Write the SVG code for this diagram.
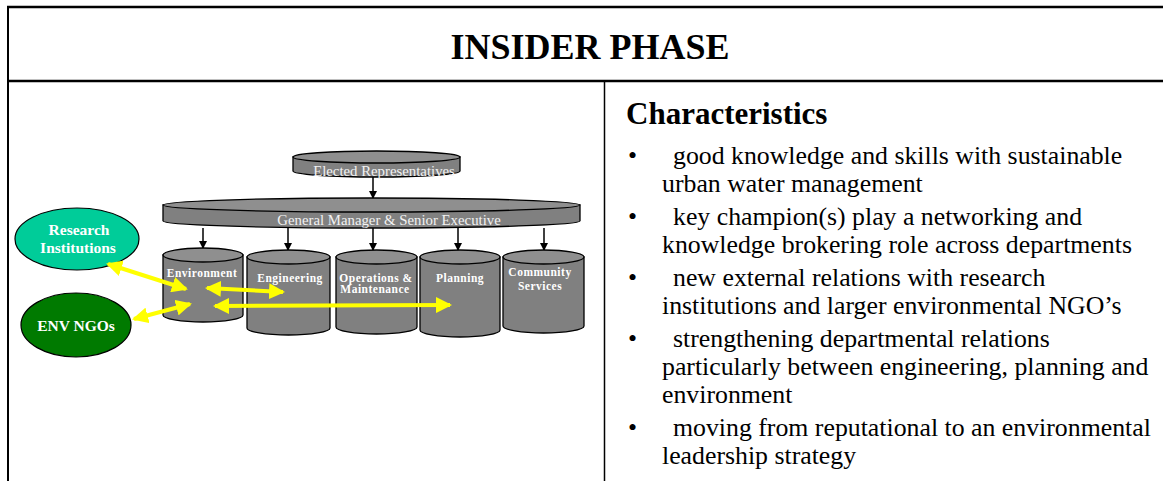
<svg xmlns="http://www.w3.org/2000/svg" width="1163" height="481" viewBox="0 0 1163 481">
<style>
.frame{stroke:#000;fill:none}
.cyl{fill:#808080;stroke:#000;stroke-width:1.3}
.cyltop{fill:#8f8f8f;stroke:#000;stroke-width:1.3}
.serif{font-family:'Liberation Serif','Times New Roman',serif}
.lbl{fill:#f2f2f2;text-anchor:middle;font-size:14.8px}
.dept{fill:#fff;font-weight:bold;font-size:11.5px;letter-spacing:0.5px;text-anchor:middle}
.ell{fill:#fff;font-weight:bold;text-anchor:middle;font-size:15.5px}
.blk{stroke:#000;stroke-width:1.5;fill:none}
.yel{stroke:#ffff00;stroke-width:4;fill:none}
.body{font-size:25.8px;fill:#000}
</style>
<defs>
<marker id="ah" markerWidth="8" markerHeight="8" refX="7" refY="4" orient="auto" markerUnits="userSpaceOnUse">
<path d="M0,0 L8,4 L0,8 Z" fill="#000"/>
</marker>
<marker id="yh" markerWidth="16" markerHeight="16" refX="14" refY="8" orient="auto-start-reverse" markerUnits="userSpaceOnUse">
<path d="M0,0 L16,8 L0,16 Z" fill="#ffff00"/>
</marker>
</defs>
<rect width="1163" height="481" fill="#fff"/>
<g id="frame">
<line class="frame" x1="7" y1="7" x2="1163" y2="7" stroke-width="2.5"/>
<line class="frame" x1="8" y1="6" x2="8" y2="481" stroke-width="2"/>
<line class="frame" x1="7" y1="81" x2="1163" y2="81" stroke-width="2.5"/>
<line class="frame" x1="604.5" y1="81" x2="604.5" y2="481" stroke-width="1.5"/>
</g>
<g id="title"><text class="serif" x="590" y="59" font-weight="bold" font-size="36" text-anchor="middle">INSIDER PHASE</text></g>

<g id="connectors">
<line class="blk" x1="373" y1="177" x2="373" y2="198" marker-end="url(#ah)"/>
<line class="blk" x1="203" y1="228" x2="203" y2="248" marker-end="url(#ah)"/>
<line class="blk" x1="288" y1="228" x2="288" y2="250" marker-end="url(#ah)"/>
<line class="blk" x1="373" y1="228" x2="373" y2="250" marker-end="url(#ah)"/>
<line class="blk" x1="458" y1="228" x2="458" y2="250" marker-end="url(#ah)"/>
<line class="blk" x1="544" y1="228" x2="544" y2="250" marker-end="url(#ah)"/>
</g>

<g id="elected">
<path class="cyl" d="M293,157 L293,171 A83.5,6 0 0 0 460,171 L460,157 Z"/>
<ellipse class="cyltop" cx="376.5" cy="157" rx="83.5" ry="6"/>
<text class="serif lbl" x="384" y="176">Elected Representatives</text>
</g>
<g id="gm">
<path class="cyl" d="M163,205 L163,221 A208.5,7 0 0 0 580,221 L580,205 Z"/>
<ellipse class="cyltop" cx="371.5" cy="205" rx="208.5" ry="7"/>
<text class="serif lbl" x="389" y="225">General Manager &amp; Senior Executive</text>
</g>
<g id="environment">
<path class="cyl" d="M163,255 L163,315 A40,7 0 0 0 243,315 L243,255 Z"/>
<ellipse class="cyltop" cx="203" cy="255" rx="40" ry="7"/>
<text class="serif dept" x="202" y="277">Environment</text>
</g>
<g id="engineering">
<path class="cyl" d="M247,257 L247,328 A41.5,7 0 0 0 330,328 L330,257 Z"/>
<ellipse class="cyltop" cx="288.5" cy="257" rx="41.5" ry="7"/>
<text class="serif dept" x="290" y="282">Engineering</text>
</g>
<g id="operations">
<path class="cyl" d="M336,257 L336,327 A40.5,7 0 0 0 417,327 L417,257 Z"/>
<ellipse class="cyltop" cx="376.5" cy="257" rx="40.5" ry="7"/>
<text class="serif dept" x="376" y="282">Operations &amp;</text>
<text class="serif dept" x="375" y="293">Maintenance</text>
</g>
<g id="planning">
<path class="cyl" d="M420,257 L420,330 A40,7 0 0 0 500,330 L500,257 Z"/>
<ellipse class="cyltop" cx="460" cy="257" rx="40" ry="7"/>
<text class="serif dept" x="460" y="282">Planning</text>
</g>
<g id="community">
<path class="cyl" d="M503,257 L503,326 A40.5,7 0 0 0 584,326 L584,257 Z"/>
<ellipse class="cyltop" cx="543.5" cy="257" rx="40.5" ry="7"/>
<text class="serif dept" x="540" y="276">Community</text>
<text class="serif dept" x="540" y="290">Services</text>
</g>
<g id="research">
<ellipse cx="77" cy="239" rx="62" ry="31" fill="#00cc99" stroke="#000" stroke-width="1.2"/>
<text class="serif ell" x="79" y="235">Research</text>
<text class="serif ell" x="78" y="253">Institutions</text>
</g>
<g id="envngos">
<ellipse cx="76" cy="325" rx="55" ry="32" fill="#007a00" stroke="#000" stroke-width="1.2"/>
<text class="serif ell" x="76" y="331">ENV NGOs</text>
</g>

<g id="links">
<line class="yel" x1="108" y1="264" x2="186" y2="289" marker-start="url(#yh)" marker-end="url(#yh)"/>
<line class="yel" x1="134" y1="319" x2="190" y2="304" marker-start="url(#yh)" marker-end="url(#yh)"/>
<line class="yel" x1="207" y1="288" x2="283" y2="292" marker-start="url(#yh)" marker-end="url(#yh)"/>
<line class="yel" x1="215" y1="306" x2="450" y2="305" marker-start="url(#yh)" marker-end="url(#yh)"/>
</g>

<g id="characteristics">
<text class="serif" x="626" y="124" font-weight="bold" font-size="31">Characteristics</text>
<g class="serif body">
<text x="628" y="164">•</text><text x="673" y="164">good knowledge and skills with sustainable</text>
<text x="662" y="192">urban water management</text>
<text x="628" y="225">•</text><text x="673" y="225">key champion(s) play a networking and</text>
<text x="662" y="253">knowledge brokering role across departments</text>
<text x="628" y="286">•</text><text x="673" y="286">new external relations with research</text>
<text x="662" y="314">institutions and larger environmental NGO’s</text>
<text x="628" y="347">•</text><text x="673" y="347">strengthening departmental relations</text>
<text x="662" y="375">particularly between engineering, planning and</text>
<text x="662" y="403">environment</text>
<text x="628" y="436">•</text><text x="673" y="436">moving from reputational to an environmental</text>
<text x="662" y="464">leadership strategy</text>
</g>
</g>
</svg>
